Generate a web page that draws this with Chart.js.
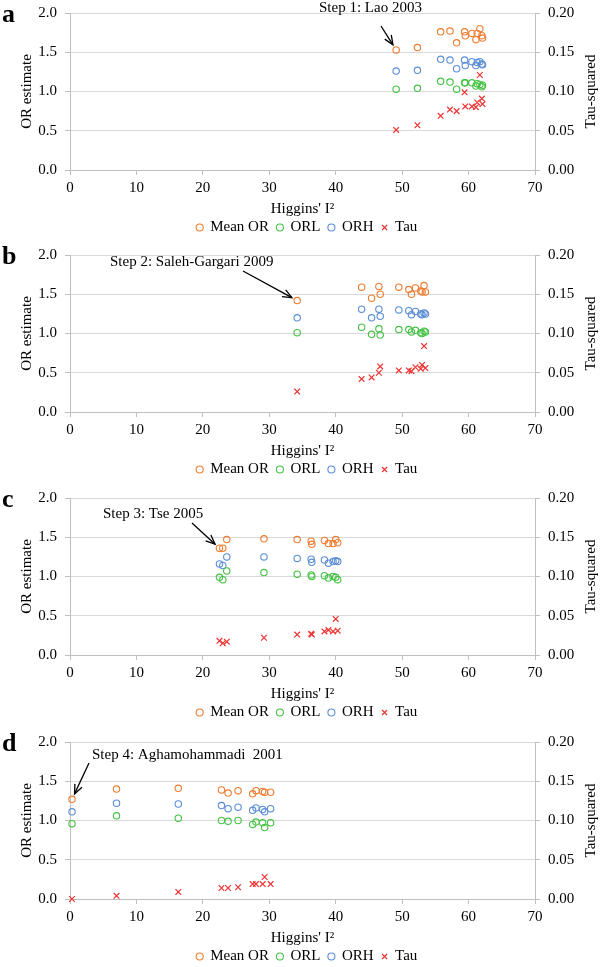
<!DOCTYPE html>
<html>
<head>
<meta charset="utf-8">
<script src="https://cdn.jsdelivr.net/npm/chart.js@4.4.0/dist/chart.umd.min.js"></script>
<style>
  body { margin: 0; background: #fff; overflow: hidden; }
  #wrap { position: relative; width: 600px; height: 967px; overflow: hidden; }
  canvas { display: block; position: absolute; left: 0; }
</style>
</head>
<body>
<div id="wrap">
  <canvas id="chart-a" width="600" height="249" style="top:-4px"></canvas>
  <canvas id="chart-b" width="600" height="249" style="top:238px"></canvas>
  <canvas id="chart-c" width="600" height="249" style="top:481px"></canvas>
  <canvas id="chart-d" width="600" height="249" style="top:725px"></canvas>
</div>
<script>
// PANEL A - step 1
const i2A   = [49.1, 52.3, 55.8, 57.2, 58.2, 59.4, 59.5, 60.5, 61.1, 61.3, 61.7, 62.0, 62.1];
const meanA = [1.53, 1.56, 1.76, 1.77, 1.62, 1.76, 1.71, 1.74, 1.66, 1.74, 1.80, 1.71, 1.68];
const orlA  = [1.03, 1.04, 1.13, 1.12, 1.03, 1.11, 1.11, 1.11, 1.07, 1.10, 1.09, 1.06, 1.08];
const orhA  = [1.26, 1.27, 1.41, 1.40, 1.29, 1.40, 1.33, 1.38, 1.33, 1.37, 1.38, 1.35, 1.34];
const tauA  = [0.051, 0.057, 0.069, 0.077, 0.075, 0.099, 0.081, 0.081, 0.080, 0.086, 0.121, 0.091, 0.084];

// PANEL B - step 2
const i2B   = [34.2, 43.9, 45.4, 46.5, 46.7, 49.5, 51.0, 51.4, 52.0, 52.8, 53.0, 53.3, 53.5];
const meanB = [1.42, 1.59, 1.45, 1.60, 1.50, 1.59, 1.56, 1.50, 1.58, 1.54, 1.53, 1.61, 1.53];
const orlB  = [1.01, 1.08, 0.99, 1.06, 0.98, 1.05, 1.05, 1.02, 1.04, 1.01, 1.00, 1.03, 1.02];
const orhB  = [1.20, 1.31, 1.20, 1.31, 1.22, 1.30, 1.29, 1.24, 1.28, 1.25, 1.24, 1.26, 1.25];
const tauB  = [0.026, 0.042, 0.044, 0.050, 0.058, 0.053, 0.053, 0.052, 0.057, 0.055, 0.060, 0.084, 0.056];

// PANEL C - step 3
const i2C   = [22.5, 23.0, 23.6, 29.2, 34.2, 36.3, 36.4, 38.3, 38.9, 39.6, 40.0, 40.3];
const meanC = [1.36, 1.36, 1.47, 1.48, 1.47, 1.45, 1.41, 1.46, 1.42, 1.42, 1.47, 1.43];
const orlC  = [0.99, 0.96, 1.07, 1.05, 1.03, 1.02, 1.00, 1.01, 0.98, 1.00, 0.99, 0.96];
const orhC  = [1.16, 1.14, 1.25, 1.25, 1.23, 1.22, 1.18, 1.21, 1.17, 1.19, 1.20, 1.19];
const tauC  = [0.018, 0.015, 0.017, 0.022, 0.026, 0.027, 0.026, 0.030, 0.032, 0.030, 0.046, 0.031];

// PANEL D - step 4
const i2D   = [0.3, 7.0, 16.3, 22.8, 23.8, 25.3, 27.5, 28.0, 29.0, 29.3, 30.2];
const meanD = [1.27, 1.40, 1.41, 1.39, 1.35, 1.38, 1.34, 1.38, 1.37, 1.36, 1.36];
const orlD  = [0.96, 1.06, 1.03, 1.00, 0.99, 1.00, 0.95, 0.98, 0.97, 0.91, 0.97];
const orhD  = [1.11, 1.22, 1.21, 1.19, 1.15, 1.17, 1.13, 1.16, 1.14, 1.11, 1.15];
const tauD  = [0.000, 0.004, 0.009, 0.014, 0.014, 0.015, 0.019, 0.019, 0.019, 0.028, 0.019];

const seriesNames = ["Mean OR", "ORL", "ORH", "Tau"];
const stepLabels = ["Step 1: Lao 2003", "Step 2: Saleh-Gargari 2009", "Step 3: Tse 2005", "Step 4: Aghamohammadi  2001"];
const panelLetters = ["a", "b", "c", "d"];

const serif = "'Liberation Serif', 'Times New Roman', serif";

function pts(xs, ys) {
    return xs.map((x, i) => ({ x: x, y: ys[i] }));
}

// draws panel letter, step note + arrow and the right axis title
const notePlugin = {
    id: 'stepNote',
    afterDraw(chart, args, opts) {
        const ctx = chart.ctx;
        const p = chart.data.datasets[0].data[opts.index];
        const px = chart.scales.x.getPixelForValue(p.x);
        const py = chart.scales.y.getPixelForValue(p.y);
        ctx.save();
        ctx.fillStyle = '#000';
        ctx.font = 'bold 26px ' + serif;
        ctx.textBaseline = 'alphabetic';
        ctx.fillText(opts.letter, 2, 26);

        ctx.font = '15px ' + serif;
        ctx.textBaseline = 'middle';
        ctx.fillText(opts.text, opts.textX, opts.textY);

        const sx = opts.from[0], sy = opts.from[1];
        const ang = Math.atan2(py - sy, px - sx);
        const tx = px - 6 * Math.cos(ang), ty = py - 6 * Math.sin(ang);
        ctx.strokeStyle = '#000';
        ctx.lineWidth = 1.3;
        ctx.beginPath();
        ctx.moveTo(sx, sy);
        ctx.lineTo(tx, ty);
        ctx.stroke();
        ctx.beginPath();
        ctx.moveTo(tx - 10 * Math.cos(ang - 0.4), ty - 10 * Math.sin(ang - 0.4));
        ctx.lineTo(tx, ty);
        ctx.lineTo(tx - 10 * Math.cos(ang + 0.4), ty - 10 * Math.sin(ang + 0.4));
        ctx.stroke();

        const area = chart.chartArea;
        ctx.translate(591, (area.top + area.bottom) / 2);
        ctx.rotate(-Math.PI / 2);
        ctx.textAlign = 'center';
        ctx.fillText('Tau-squared', 0, 0);
        ctx.restore();
    }
};

function makeChart(id, i2, mean, orl, orh, tau, note) {
    const circle = (label, color, ys) => ({
        label: label,
        data: pts(i2, ys),
        yAxisID: 'y',
        pointStyle: 'circle',
        pointRadius: 3.2,
        pointBorderWidth: 1.1,
        borderColor: color,
        backgroundColor: 'rgba(0,0,0,0)',
        clip: false
    });
    return new Chart(document.getElementById(id), {
        type: 'scatter',
        data: {
            datasets: [
                circle(seriesNames[0], '#ed7d31', mean),
                circle(seriesNames[1], '#45c245', orl),
                circle(seriesNames[2], '#5b8ed6', orh),
                {
                    label: seriesNames[3],
                    data: pts(i2, tau),
                    yAxisID: 'y1',
                    pointStyle: 'crossRot',
                    pointRadius: 4,
                    pointBorderWidth: 1.2,
                    borderColor: '#f03232',
                    backgroundColor: '#f03232',
                    clip: false
                }
            ]
        },
        options: {
            responsive: false,
            devicePixelRatio: 1,
            animation: false,
            layout: { padding: { left: 14, right: 0, top: 4, bottom: 0 } },
            scales: {
                x: {
                    type: 'linear',
                    min: 0,
                    max: 70,
                    ticks: { stepSize: 10, color: '#000', font: { family: serif, size: 15 }, padding: 4 },
                    grid: { drawOnChartArea: false, tickLength: 5, color: '#bfbfbf' },
                    border: { color: '#bfbfbf' },
                    title: { display: true, text: "Higgins' I²", color: '#000', font: { family: serif, size: 15 }, padding: { top: 0, bottom: -6 } },
                    afterFit: s => { s.height = 42; }
                },
                y: {
                    position: 'left',
                    min: 0,
                    max: 2,
                    ticks: { stepSize: 0.5, color: '#000', font: { family: serif, size: 15 }, padding: 8,
                        callback: v => v.toFixed(1) },
                    grid: { color: '#d9d9d9', tickColor: '#bfbfbf', tickLength: 5 },
                    border: { color: '#bfbfbf' },
                    title: { display: true, text: 'OR estimate', color: '#000', font: { family: serif, size: 15 } },
                    afterFit: s => { s.width = 56; }
                },
                y1: {
                    position: 'right',
                    min: 0,
                    max: 0.2,
                    ticks: { stepSize: 0.05, color: '#000', font: { family: serif, size: 15 }, padding: 8,
                        callback: v => v.toFixed(2) },
                    grid: { drawOnChartArea: false, color: '#bfbfbf', tickLength: 5 },
                    border: { color: '#bfbfbf' },
                    afterFit: s => { s.width = 65; }
                }
            },
            plugins: {
                legend: {
                    position: 'bottom',
                    labels: { usePointStyle: true, boxWidth: 6, boxHeight: 5, padding: 8, color: '#000',
                        font: { family: serif, size: 15 } }
                },
                tooltip: { enabled: false },
                stepNote: note
            }
        },
        plugins: [notePlugin]
    });
}

makeChart('chart-a', i2A, meanA, orlA, orhA, tauA,
    { letter: panelLetters[0], text: stepLabels[0], index: 0, textX: 319, textY: 12, from: [381, 30] });
makeChart('chart-b', i2B, meanB, orlB, orhB, tauB,
    { letter: panelLetters[1], text: stepLabels[1], index: 0, textX: 110, textY: 24, from: [243, 33] });
makeChart('chart-c', i2C, meanC, orlC, orhC, tauC,
    { letter: panelLetters[2], text: stepLabels[2], index: 0, textX: 103, textY: 33, from: [192, 42] });
makeChart('chart-d', i2D, meanD, orlD, orhD, tauD,
    { letter: panelLetters[3], text: stepLabels[3], index: 0, textX: 92, textY: 30, from: [89, 38] });
</script>
</body>
</html>
